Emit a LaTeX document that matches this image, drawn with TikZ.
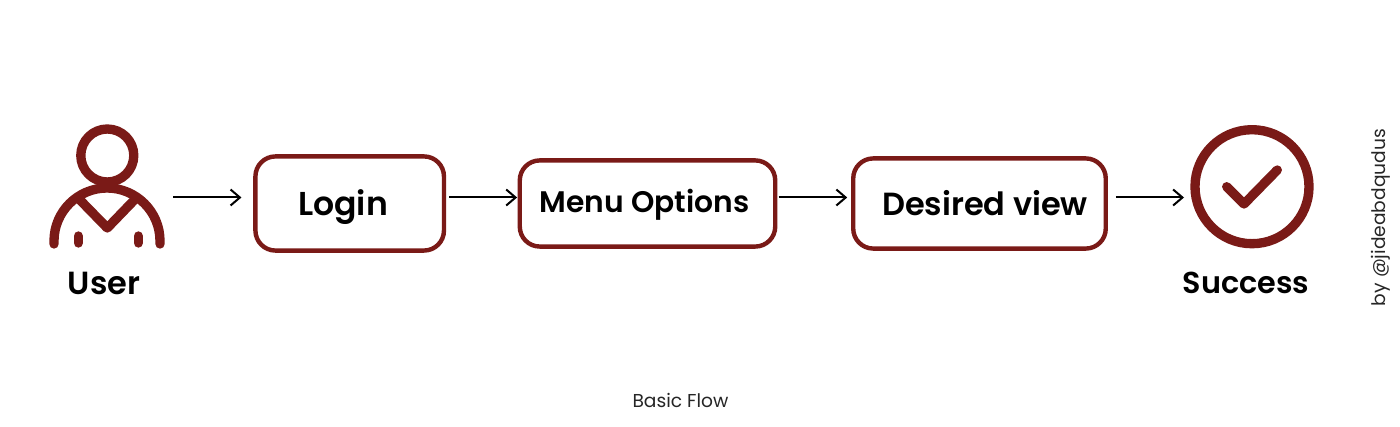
\documentclass[tikz,border=0pt]{standalone}
\usepackage{fontspec}
\setmainfont{Poppins}
\newfontfamily\semib{Poppins SemiBold}
\usetikzlibrary{arrows.meta}
\definecolor{maroon}{HTML}{7A1A17}
\tikzset{
  x=0.75pt,y=-0.75pt,
  box/.style={draw=maroon,line width=3.3pt,rounded corners=15pt,fill=white,outer sep=0pt,inner sep=0pt},
  icon/.style={draw=maroon,line width=7pt,line cap=round,line join=round},
  flow/.style={draw=black,line width=1.5pt,-{Straight Barb[length=7pt,width=12pt,line width=1.5pt]}},
  big/.style={font=\semib\fontsize{#1}{28pt}\selectfont,text=black,inner sep=0pt,outer sep=0pt},
  big/.default=24pt,
  small/.style={font=\fontsize{14pt}{17pt}\selectfont,text=black!85,inner sep=0pt}
}
\begin{document}
\begin{tikzpicture}
\useasboundingbox (0,0) rectangle (1400,427);
\fill[white] (0,0) rectangle (1400,427);
% named boxes
\node[box,minimum width=141.4pt,minimum height=70.6pt] (login) at (349.7,203.5) {};
\node[box,minimum width=191.6pt,minimum height=64.6pt] (menu) at (647.5,203.5) {};
\node[box,minimum width=189.4pt,minimum height=67.6pt] (view) at (979.5,203.5) {};
\node[big=24.8pt] (logintext) at (343,207) {Login};
\node[big=22.3pt] (menutext) at (644.5,205) {Menu Options};
\node[big] (viewtext) at (985,203) {Desired view};
% user icon
\draw[icon] (107.3,155.5) circle[radius=26.5];
\draw[icon] (54,244) -- (54,241) arc[start angle=180,end angle=360,radius=53] -- (160,244);
\draw[icon] (80,200) -- (107.3,228) -- (134.3,200);
\draw[icon] (78.3,236) -- (78.3,243);
\draw[icon] (138.3,236) -- (138.3,243);
\node[inner sep=0pt,outer sep=0pt,minimum width=87pt,minimum height=92pt] (user) at (107,186.5) {};
\node[big] (usertext) at (104,283) {User};
% success icon
\draw[icon] (1252,186.7) circle[radius=57];
\draw[icon] (1226.7,186.7) -- (1244,204) -- (1277.3,170);
\node[inner sep=0pt,outer sep=0pt,minimum width=92pt,minimum height=92pt] (success) at (1252,186.7) {};
\node[big=22.7pt] (successtext) at (1246,283) {Success};
% row coordinate
\coordinate (row) at (700,197.5);
\draw[flow,shorten <=6pt,shorten >=10.5pt] (user.east |- row) -- (login.west |- row);
\draw[flow,shorten <=3.8pt,shorten >=2pt] (login.east |- row) -- (menu.west |- row);
\draw[flow,shorten <=2.6pt,shorten >=4.5pt] (menu.east |- row) -- (view.west |- row);
\draw[flow,shorten <=7.5pt,shorten >=5pt] (view.east |- row) -- (success.west |- row);
\node[small] (caption) at (680.5,400) {Basic Flow};
\node[small,rotate=90] (credit) at (1381,217.5) {by @jideabdqudus};
\end{tikzpicture}
\end{document}
